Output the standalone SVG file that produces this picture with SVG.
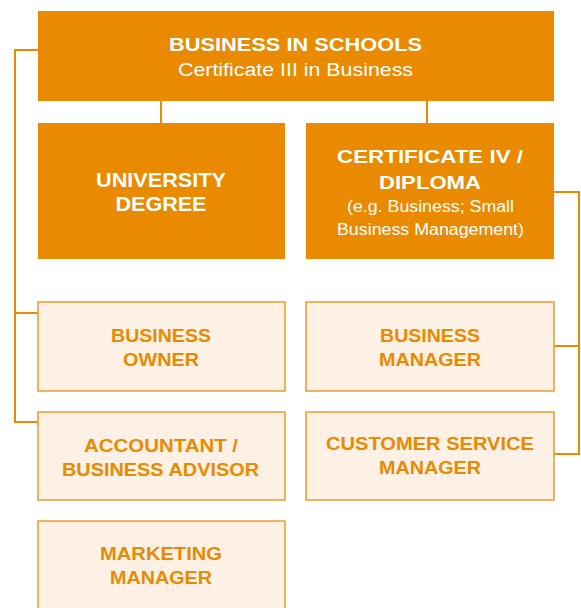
<svg xmlns="http://www.w3.org/2000/svg" width="581" height="608" viewBox="0 0 581 608">
<style>
.dark{fill:#E98A00}
.light{fill:#FDF1E5;stroke:#EE9A30;stroke-width:1.5}
.conn{fill:none;stroke:#E98A00;stroke-width:2}
text{font-family:"Liberation Sans",Arial,sans-serif;text-anchor:middle}
.wb{fill:#fff;font-weight:bold;font-size:19px}
.wr{fill:#fff;font-size:19px}
.ws{fill:#fff;font-size:16px}
.ob{fill:#E98A00;font-weight:bold;font-size:18.5px}
</style>
<rect width="581" height="608" fill="#fff"/>
<g id="connectors">
<path class="conn" d="M38,50H15V422H38M15,313H38"/>
<path class="conn" d="M161,101V123M427,101V123"/>
<path class="conn" d="M554,192H579V454H554M579,346H554"/>
</g>
<g id="top">
<rect class="dark" x="38" y="11" width="516" height="90"/>
<text class="wb" x="295.5" y="51" textLength="253" lengthAdjust="spacingAndGlyphs">BUSINESS IN SCHOOLS</text>
<text class="wr" x="295.5" y="76" textLength="235" lengthAdjust="spacingAndGlyphs">Certificate III in Business</text>
</g>
<g id="university">
<rect class="dark" x="38" y="123" width="247" height="136"/>
<text class="wb" x="161" y="187" textLength="130" lengthAdjust="spacingAndGlyphs" style="font-size:20px">UNIVERSITY</text>
<text class="wb" x="161" y="210.5" textLength="91" lengthAdjust="spacingAndGlyphs" style="font-size:20px">DEGREE</text>
</g>
<g id="cert4">
<rect class="dark" x="306" y="123" width="248" height="136"/>
<text class="wb" x="430" y="163" textLength="186" lengthAdjust="spacingAndGlyphs">CERTIFICATE IV /</text>
<text class="wb" x="430" y="189" textLength="102" lengthAdjust="spacingAndGlyphs">DIPLOMA</text>
<text class="ws" x="430.5" y="212" textLength="167" lengthAdjust="spacingAndGlyphs">(e.g. Business; Small</text>
<text class="ws" x="430.5" y="235" textLength="187" lengthAdjust="spacingAndGlyphs">Business Management)</text>
</g>
<g id="owner">
<rect class="light" x="38" y="302" width="247" height="89"/>
<text class="ob" x="161" y="342" textLength="100" lengthAdjust="spacingAndGlyphs">BUSINESS</text>
<text class="ob" x="161" y="366" textLength="76" lengthAdjust="spacingAndGlyphs">OWNER</text>
</g>
<g id="bmanager">
<rect class="light" x="306" y="302" width="248" height="89"/>
<text class="ob" x="430" y="342" textLength="100" lengthAdjust="spacingAndGlyphs">BUSINESS</text>
<text class="ob" x="430" y="366" textLength="102" lengthAdjust="spacingAndGlyphs">MANAGER</text>
</g>
<g id="accountant">
<rect class="light" x="38" y="412" width="247" height="88"/>
<text class="ob" x="161" y="452" textLength="154" lengthAdjust="spacingAndGlyphs">ACCOUNTANT /</text>
<text class="ob" x="160.5" y="476" textLength="197" lengthAdjust="spacingAndGlyphs">BUSINESS ADVISOR</text>
</g>
<g id="csm">
<rect class="light" x="306" y="412" width="248" height="88"/>
<text class="ob" x="430" y="450" textLength="208" lengthAdjust="spacingAndGlyphs">CUSTOMER SERVICE</text>
<text class="ob" x="430" y="474" textLength="102" lengthAdjust="spacingAndGlyphs">MANAGER</text>
</g>
<g id="marketing">
<rect class="light" x="38" y="521" width="247" height="100"/>
<text class="ob" x="161" y="560" textLength="122" lengthAdjust="spacingAndGlyphs">MARKETING</text>
<text class="ob" x="161" y="584" textLength="102" lengthAdjust="spacingAndGlyphs">MANAGER</text>
</g>
</svg>
